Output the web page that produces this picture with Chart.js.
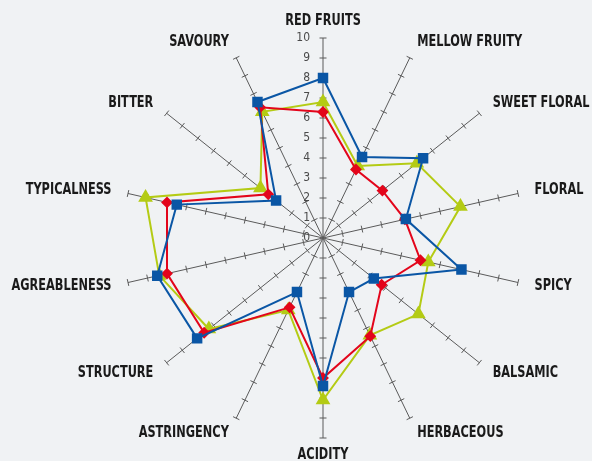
<!DOCTYPE html>
<html>
<head>
<meta charset="utf-8">
<script src="https://cdn.jsdelivr.net/npm/chart.js@4.4.0/dist/chart.umd.min.js"></script>
<style>
  html, body { margin: 0; padding: 0; background: #f0f2f4; }
  #wrap { width: 592px; height: 461px; position: relative; }
</style>
</head>
<body>
<div id="wrap"><canvas id="myChart"></canvas></div>
<script>
// descriptors, clockwise from the top
const labels = ['RED FRUITS', 'MELLOW FRUITY', 'SWEET FLORAL', 'FLORAL', 'SPICY', 'BALSAMIC',
  'HERBACEOUS', 'ACIDITY', 'ASTRINGENCY', 'STRUCTURE', 'AGREABLENESS', 'TYPICALNESS', 'BITTER', 'SAVOURY'];

const blueValues  = [8.0, 4.5, 6.4, 4.25, 7.1, 3.25, 3.0, 7.4, 3.0, 8.05, 8.5, 7.5, 3.0, 7.55];
const redValues   = [6.3, 3.8, 3.8, 4.2, 5.0, 3.75, 5.45, 7.0, 3.85, 7.6, 8.0, 8.0, 3.5, 7.25];
const greenValues = [6.8, 4.0, 6.0, 7.05, 5.4, 6.1, 5.4, 8.1, 4.0, 7.3, 8.4, 9.1, 4.0, 7.0];

const tickValues = [0, 1, 2, 3, 4, 5, 6, 7, 8, 9, 10];

const FONT = '"Liberation Sans Narrow", "DejaVu Sans Condensed", "Arial Narrow", sans-serif';

// spoke tick marks, value numbers and descriptor names
const spokePlugin = {
  id: 'spokes',
  beforeDatasetsDraw(chart) {
    const s = chart.scales.r;
    const ctx = chart.ctx;
    ctx.save();
    ctx.strokeStyle = '#5a5a5a';
    ctx.lineWidth = 1;
    for (let i = 0; i < labels.length; i++) {
      const a = s.getIndexAngle(i) - Math.PI / 2;
      const px = -Math.sin(a), py = Math.cos(a);
      for (let v = 1; v <= 10; v++) {
        const p = s.getPointPosition(i, s.getDistanceFromCenterForValue(v));
        const len = 3.5;
        ctx.beginPath();
        ctx.moveTo(p.x - px * len, p.y - py * len);
        ctx.lineTo(p.x + px * len, p.y + py * len);
        ctx.stroke();
      }
    }
    // value numbers beside the top spoke
    ctx.fillStyle = '#4a4a4a';
    ctx.font = '12px ' + FONT;
    ctx.textAlign = 'right';
    ctx.textBaseline = 'middle';
    tickValues.forEach(v => {
      const p = s.getPointPosition(0, s.getDistanceFromCenterForValue(v));
      ctx.fillText(String(v), p.x - 13, p.y);
    });
    // descriptor names (condensed bold)
    ctx.fillStyle = '#1a1a1a';
    ctx.font = 'bold 15px ' + FONT;
    labels.forEach((lab, i) => {
      const p = s.getPointPosition(i, s.drawingArea + 17);
      const dx = p.x - s.xCenter;
      ctx.textAlign = Math.abs(dx) < 1 ? 'center' : (dx > 0 ? 'left' : 'right');
      ctx.save();
      ctx.translate(p.x, p.y);
      ctx.scale(0.84, 1);
      ctx.fillText(lab, 0, 0);
      ctx.restore();
    });
    ctx.restore();
  }
};

const ctx = document.getElementById('myChart').getContext('2d');
const myChart = new Chart(ctx, {
  type: 'radar',
  data: {
    labels: labels,
    datasets: [{
      data: blueValues,
      borderColor: '#0a56a5',
      backgroundColor: '#0a56a5',
      pointStyle: 'rect',
      pointRadius: 6,
      borderWidth: 2,
      fill: false
    }, {
      data: redValues,
      borderColor: '#e3051b',
      backgroundColor: '#e3051b',
      pointStyle: 'rectRot',
      pointRadius: 4.5,
      borderWidth: 2,
      fill: false
    }, {
      data: greenValues,
      borderColor: '#b4cb14',
      backgroundColor: '#b4cb14',
      pointStyle: 'triangle',
      pointRadius: 6.5,
      borderWidth: 2,
      fill: false
    }]
  },
  options: {
    responsive: true,
    maintainAspectRatio: false,
    animation: false,
    layout: { padding: { left: 123, right: 69, top: 38, bottom: 23 } },
    plugins: { legend: { display: false }, tooltip: { enabled: false } },
    elements: { line: { tension: 0 }, point: { borderWidth: 1 } },
    scales: {
      r: {
        min: 0,
        max: 10,
        ticks: { display: false, stepSize: 1 },
        grid: { display: false },
        angleLines: { display: true, color: '#5a5a5a', lineWidth: 1 },
        pointLabels: { display: false }
      }
    }
  },
  plugins: [spokePlugin]
});
</script>
</body>
</html>
